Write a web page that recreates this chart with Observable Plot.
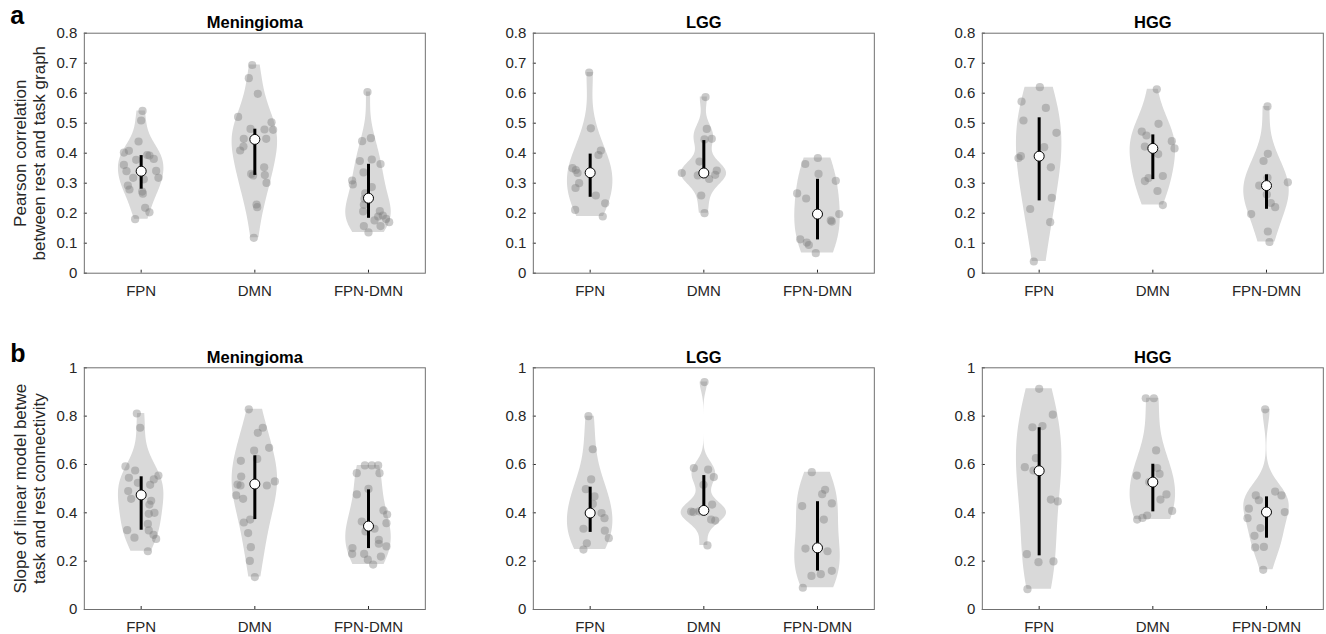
<!DOCTYPE html>
<html><head><meta charset="utf-8">
<script src="https://cdn.jsdelivr.net/npm/d3@7"></script>
<script src="https://cdn.jsdelivr.net/npm/@observablehq/plot@0.6"></script>
<style>
body{margin:0;background:#fff;}
#chart{position:relative;width:1326px;height:634px;overflow:hidden;font-family:"Liberation Sans",Arial,sans-serif;background:#fff;}
#chart svg{position:absolute;}
</style></head><body><div id="chart"></div>
<script>
// ---------- categories & labels ----------
const groups = ["Meningioma", "LGG", "HGG"];
const networks = ["FPN", "DMN", "FPN-DMN"];
const yTicksA = [0, 0.1, 0.2, 0.3, 0.4, 0.5, 0.6, 0.7, 0.8];
const yTicksB = [0, 0.2, 0.4, 0.6, 0.8, 1];
const yLabelA = "Pearson correlation\nbetween rest and task graph";
const yLabelB = "Slope of linear model betwe\ntask and rest connectivity";

// ---------- row a: [value, jitter offset (category units)] ----------
const menA_FPN = [[0.541,0.012],[0.509,0],[0.439,-0.023],[0.402,-0.152],[0.408,-0.108],[0.392,0.073],[0.394,0.053],[0.381,0.111],[0.378,-0.044],[0.361,-0.152],[0.340,-0.129],[0.341,0.132],[0.318,-0.070],[0.318,0.152],[0.313,0.023],[0.292,-0.117],[0.279,-0.103],[0.272,0.009],[0.265,0.015],[0.218,0.035],[0.203,0.073],[0.180,-0.053]];
const menA_DMN = [[0.694,-0.023],[0.650,-0.053],[0.598,0.026],[0.521,-0.147],[0.503,0.147],[0.478,0.161],[0.479,0.085],[0.481,-0.038],[0.448,-0.097],[0.448,0.100],[0.422,-0.100],[0.409,-0.129],[0.353,0.082],[0.327,0.088],[0.331,-0.032],[0.326,-0.015],[0.301,0.103],[0.229,0.015],[0.220,0.021],[0.118,-0.009],[0.446,0]];
const menA_FD = [[0.604,-0.009],[0.450,0.021],[0.440,-0.056],[0.374,-0.076],[0.379,0.029],[0.364,0.106],[0.336,-0.044],[0.287,0.029],[0.309,-0.144],[0.296,-0.138],[0.266,-0.029],[0.248,-0.035],[0.228,-0.041],[0.206,-0.047],[0.207,0.100],[0.192,0.126],[0.189,0.085],[0.181,0.155],[0.176,0.053],[0.170,0.182],[0.157,0.106],[0.157,-0.041],[0.136,0]];
const lggA_FPN = [[0.669,-0.009],[0.483,0.006],[0.409,0.094],[0.394,0.073],[0.350,-0.155],[0.344,-0.126],[0.334,-0.111],[0.300,-0.097],[0.284,-0.129],[0.259,0.050],[0.233,0.132],[0.211,-0.132],[0.189,0.111]];
const lggA_DMN = [[0.587,0.015],[0.481,0.026],[0.448,0.070],[0.446,0.006],[0.372,-0.038],[0.334,-0.194],[0.326,-0.053],[0.342,0.114],[0.328,0.100],[0.314,0.047],[0.259,-0.023],[0.200,0.006],[0.334,0]];
const lggA_FD = [[0.384,0.003],[0.364,-0.108],[0.331,0.009],[0.308,0.161],[0.266,-0.179],[0.249,-0.100],[0.197,0.191],[0.176,0.117],[0.172,0.126],[0.113,-0.152],[0.102,-0.094],[0.094,-0.076],[0.067,-0.015]];
const hggA_FPN = [[0.620,0.006],[0.572,-0.155],[0.551,0.059],[0.509,-0.138],[0.468,0.152],[0.420,0.044],[0.390,-0.161],[0.384,-0.182],[0.353,0.103],[0.251,0.111],[0.214,-0.079],[0.170,0.097],[0.039,-0.047]];
const hggA_DMN = [[0.613,0.035],[0.498,0.050],[0.472,-0.097],[0.459,-0.056],[0.440,0.167],[0.416,0.191],[0.422,-0.070],[0.397,0.047],[0.324,0.088],[0.317,-0.038],[0.307,-0.070],[0.274,0.041],[0.227,0.088]];
const hggA_FD = [[0.556,0.009],[0.398,0.012],[0.374,-0.026],[0.318,0.009],[0.292,-0.064],[0.303,0.188],[0.262,0.003],[0.234,0.038],[0.220,0.076],[0.197,-0.135],[0.139,0.012],[0.104,0.026],[0.292,0]];

// medians and quartiles, row a: [group][network]
const medianA = [[0.340,0.446,0.250],[0.335,0.334,0.197],[0.390,0.416,0.292]];
const q1A = [[0.280,0.326,0.183],[0.253,0.327,0.111],[0.241,0.312,0.213]];
const q3A = [[0.392,0.480,0.363],[0.397,0.442,0.313],[0.518,0.461,0.328]];

// ---------- row b ----------
const menB_FPN = [[0.811,-0.038],[0.752,-0.009],[0.592,-0.138],[0.575,-0.053],[0.545,-0.108],[0.554,0.152],[0.538,0.111],[0.524,-0.029],[0.516,0.079],[0.490,-0.114],[0.458,-0.088],[0.450,0.088],[0.434,0.073],[0.400,0.117],[0.396,0.067],[0.354,0.059],[0.327,0.067],[0.328,-0.123],[0.309,0.109],[0.292,0.132],[0.297,-0.059],[0.241,0.059],[0.474,0]];
const menB_DMN = [[0.828,-0.053],[0.752,0.070],[0.731,0.026],[0.669,0.126],[0.657,-0.006],[0.623,0.021],[0.615,-0.123],[0.550,-0.120],[0.530,0.176],[0.513,0.106],[0.517,-0.152],[0.513,-0.126],[0.472,-0.164],[0.458,-0.103],[0.372,-0.041],[0.360,-0.097],[0.316,-0.059],[0.258,-0.035],[0.201,-0.044],[0.134,0],[0.519,0]];
const menB_FD = [[0.596,-0.032],[0.596,0.029],[0.596,0.085],[0.564,-0.103],[0.564,0.097],[0.499,0],[0.476,-0.103],[0.410,0.132],[0.393,0.164],[0.357,0.158],[0.364,-0.059],[0.323,-0.026],[0.334,0.053],[0.288,0.091],[0.272,0.091],[0.261,0.158],[0.254,-0.141],[0.230,-0.144],[0.230,-0.038],[0.219,0.109],[0.206,-0.006],[0.186,0.041],[0.345,0]];
const lggB_FPN = [[0.800,-0.015],[0.663,0.023],[0.538,0.009],[0.498,-0.038],[0.468,0.038],[0.437,0.023],[0.399,0.100],[0.378,0.126],[0.334,-0.059],[0.326,0.129],[0.295,0.164],[0.274,-0.029],[0.248,-0.059]];
const lggB_DMN = [[0.941,0.006],[0.585,-0.088],[0.579,0.038],[0.548,0.088],[0.516,-0.003],[0.434,0.073],[0.403,-0.091],[0.405,-0.112],[0.406,-0.041],[0.368,0.100],[0.372,0.064],[0.265,0.032],[0.410,0]];
const lggB_FD = [[0.568,-0.050],[0.495,0.067],[0.477,0.041],[0.439,0.126],[0.428,-0.135],[0.372,0.056],[0.252,-0.106],[0.241,0.088],[0.139,-0.053],[0.146,0.029],[0.160,0.126],[0.090,-0.129],[0.255,0]];
const hggB_FPN = [[0.913,0],[0.806,0.120],[0.754,-0.059],[0.759,0.029],[0.626,-0.029],[0.589,-0.126],[0.575,-0.050],[0.455,0.103],[0.447,0.164],[0.229,-0.108],[0.196,-0.006],[0.199,0.126],[0.084,-0.103]];
const hggB_DMN = [[0.874,-0.062],[0.874,0.009],[0.658,0.029],[0.585,0.038],[0.561,0.059],[0.554,-0.141],[0.527,-0.032],[0.476,0.120],[0.455,0.067],[0.408,0.170],[0.389,-0.050],[0.379,-0.091],[0.372,-0.138]];
const hggB_FD = [[0.828,-0.012],[0.488,0.076],[0.472,0.132],[0.472,-0.094],[0.452,-0.067],[0.403,0.161],[0.417,-0.155],[0.378,-0.167],[0.337,-0.053],[0.305,-0.106],[0.259,-0.023],[0.257,-0.100],[0.164,-0.029]];

const medianB = [[0.474,0.519,0.345],[0.399,0.410,0.255],[0.574,0.527,0.403]];
const q1B = [[0.328,0.372,0.252],[0.319,0.404,0.159],[0.222,0.404,0.295]];
const q3B = [[0.549,0.636,0.495],[0.506,0.554,0.446],[0.752,0.601,0.466]];

// ---------- helpers ----------
const VIOLIN_HALF = 0.2; // half width of widest part, category units

function violinShape(vals, cat) {
  // Gaussian KDE (MATLAB ksdensity default bandwidth), truncated to data range
  const n = vals.length;
  const med = d3.median(vals);
  const [lo, hi] = d3.extent(vals);
  let sig = d3.median(vals, v => Math.abs(v - med)) / 0.6745;
  if (!(sig > 0)) sig = hi - lo;
  const bw = sig * Math.pow(4 / (3 * n), 0.2);
  const N = 100;
  const ys = d3.range(N + 1).map(i => lo + (hi - lo) * i / N);
  const dens = ys.map(y => d3.sum(vals, v => Math.exp(-0.5 * ((y - v) / bw) ** 2)));
  const m = d3.max(dens);
  return ys.map((y, i) => ({cat, y, x1: cat - dens[i] / m * VIOLIN_HALF, x2: cat + dens[i] / m * VIOLIN_HALF}));
}

const rows = [
  {letter: "a", top: 0, height: 330, mt: 32.7, mb: 57.3, domain: [0, 0.8], ticks: yTicksA, label: yLabelA, letterDy: -9.2,
   pts: [[menA_FPN, menA_DMN, menA_FD], [lggA_FPN, lggA_DMN, lggA_FD], [hggA_FPN, hggA_DMN, hggA_FD]],
   med: medianA, q1: q1A, q3: q3A},
  {letter: "b", top: 330, height: 304, mt: 37.3, mb: 25, domain: [0, 1], ticks: yTicksB, label: yLabelB, letterDy: -5.6,
   pts: [[menB_FPN, menB_DMN, menB_FD], [lggB_FPN, lggB_DMN, lggB_FD], [hggB_FPN, hggB_DMN, hggB_FD]],
   med: medianB, q1: q1B, q3: q3B}
];

const chart = document.getElementById("chart");
const FRAME_LEFT = 83.83, FRAME_W = 341, COL_STEP = 449;

rows.forEach(row => {
  groups.forEach((gname, g) => {
    const width = g < 2 ? COL_STEP : 1326 - 2 * COL_STEP;
    const violins = [], points = [], summary = [];
    networks.forEach((net, k) => {
      const cat = k + 1;
      const arr = row.pts[g][k];
      violins.push(...violinShape(arr.map(d => d[0]), cat));
      arr.forEach(d => points.push({cat, v: d[0], off: d[1]}));
      summary.push({cat, med: row.med[g][k], q1: row.q1[g][k], q3: row.q3[g][k]});
    });
    const marks = [
      Plot.areaX(violins, {y: "y", x1: "x1", x2: "x2", z: "cat", fill: "#d9d9d9", curve: "linear"}),
      Plot.dot(points, {x: d => d.cat + d.off, y: "v", r: 4.1, fill: "#7a7a7a", fillOpacity: 0.4}),
      Plot.ruleX(summary, {x: "cat", y1: "q1", y2: "q3", stroke: "#000", strokeWidth: 3}),
      Plot.dot(summary, {x: "cat", y: "med", r: 5, fill: "#fff", stroke: "#000", strokeWidth: 1}),
      Plot.frame({stroke: "#707070", strokeWidth: 1}),
      Plot.text([gname], {frameAnchor: "top", dy: -5, lineAnchor: "bottom", fontWeight: "bold", fontSize: 16.5, fill: "#000"})
    ];
    if (g === 0) {
      marks.push(Plot.text([row.label], {frameAnchor: "left", dx: -55, rotate: -90, textAnchor: "middle", lineAnchor: "middle", fontSize: 17, lineHeight: 1.1, fill: "#262626"}));
      marks.push(Plot.text([row.letter], {frameAnchor: "top-left", dx: -74, dy: row.letterDy, textAnchor: "start", lineAnchor: "bottom", fontWeight: "bold", fontSize: 25, fill: "#000"}));
    }
    const svg = Plot.plot({
      width, height: row.height,
      marginLeft: FRAME_LEFT, marginRight: width - FRAME_LEFT - FRAME_W,
      marginTop: row.mt, marginBottom: row.mb,
      style: {fontSize: "15px", fontFamily: "'Liberation Sans', Arial, sans-serif", color: "#262626", background: "transparent", overflow: "visible"},
      x: {domain: [0.5, 3.5], ticks: [1, 2, 3], tickFormat: i => networks[i - 1], tickSize: -3, tickPadding: 15, label: null},
      y: {domain: row.domain, ticks: row.ticks, tickFormat: d => String(d), tickSize: -3, tickPadding: 10, label: null},
      marks
    });
    svg.style.left = (COL_STEP * g) + "px";
    svg.style.top = row.top + "px";
    chart.appendChild(svg);
  });
});
</script></body></html>
